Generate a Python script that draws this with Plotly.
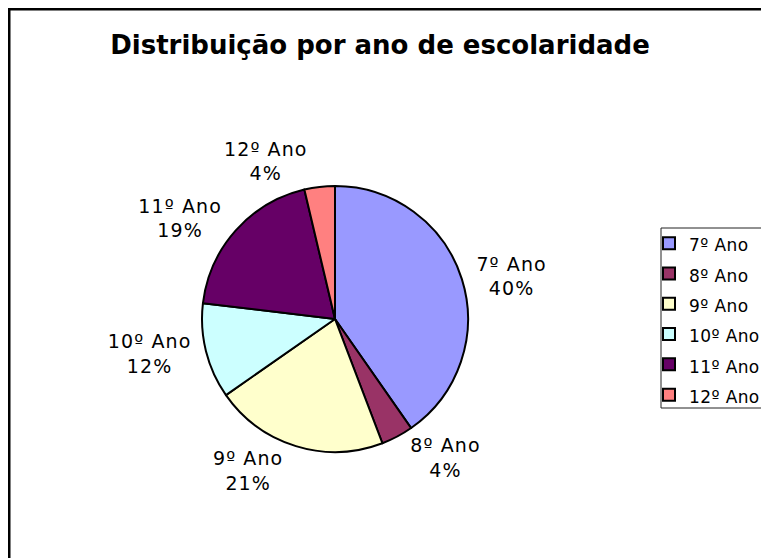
import plotly.graph_objects as go

categories = ["7º Ano", "8º Ano", "9º Ano", "10º Ano", "11º Ano", "12º Ano"]
values = [40.3, 3.9, 21.1, 11.6, 19.4, 3.7]
colors = ["#9999FF", "#993366", "#FFFFCC", "#CCFFFF", "#660066", "#FF8080"]
title_text = "Distribuição por ano de escolaridade"

W, H = 769, 558
OFF = 8  # page body margin
cx, cy, r = 335 - OFF, 319 - OFF, 133
r_lab = 136
LEG_STYLE = "font-size:17px;letter-spacing:0.4px"
LAB_STYLE = "font-size:19px;letter-spacing:1.1px"

legend_labels = ["<span style='" + LEG_STYLE + "'>" + c + "</span>" for c in categories]
slice_text = ["<span style='" + LAB_STYLE + "'>" + c + "</span>" for c in categories]


def dom(rad):
    return dict(x=[(cx - rad) / W, (cx + rad) / W], y=[(H - cy - rad) / H, (H - cy + rad) / H])


def px_x(x):
    return (x - OFF) / W


def px_y(y):
    return (H - (y - OFF)) / H


fig = go.Figure()
# visible pie with legend
fig.add_trace(go.Pie(
    labels=legend_labels,
    values=values,
    sort=False,
    direction="clockwise",
    rotation=0,
    marker=dict(colors=colors, line=dict(color="black", width=2)),
    textinfo="none",
    domain=dom(r),
    customdata=categories,
    hovertemplate="%{customdata}<br>%{percent:.0%}<extra></extra>",
))
# transparent companion pie carrying the outside labels a bit further out
fig.add_trace(go.Pie(
    labels=legend_labels,
    values=values,
    sort=False,
    direction="clockwise",
    rotation=0,
    marker=dict(colors=["rgba(0,0,0,0)"] * len(values), line=dict(width=0)),
    textposition="outside",
    customdata=slice_text,
    texttemplate="%{customdata}<br><span style='" + LAB_STYLE + "'>%{percent:.0%}</span>",
    textfont=dict(family="DejaVu Sans", size=19, color="black"),
    domain=dom(r_lab),
    showlegend=False,
    hoverinfo="skip",
))

fig.update_layout(
    width=W, height=H,
    margin=dict(l=0, r=0, t=0, b=0, autoexpand=False),
    paper_bgcolor="white",
    plot_bgcolor="white",
    title=dict(text="<b>" + title_text + "</b>", x=px_x(380), xanchor="center",
               y=px_y(45), yanchor="middle",
               font=dict(family="DejaVu Sans", size=26, color="black")),
    legend=dict(x=px_x(649), xanchor="left", y=px_y(223), yanchor="top",
                borderwidth=0, bgcolor="rgba(0,0,0,0)",
                font=dict(family="DejaVu Sans", size=21, color="black")),
    showlegend=True,
    shapes=[
        dict(type="rect", xref="paper", yref="paper",
             x0=1 / W, x1=1.2, y0=-0.2, y1=(H - 1) / H,
             line=dict(color="black", width=3), fillcolor="rgba(0,0,0,0)", layer="below"),
        dict(type="rect", xref="paper", yref="paper",
             x0=px_x(661), x1=1.2, y0=px_y(408), y1=px_y(228),
             line=dict(color="#222222", width=1), fillcolor="white", layer="below"),
    ],
)

fig.write_html("out.html")
